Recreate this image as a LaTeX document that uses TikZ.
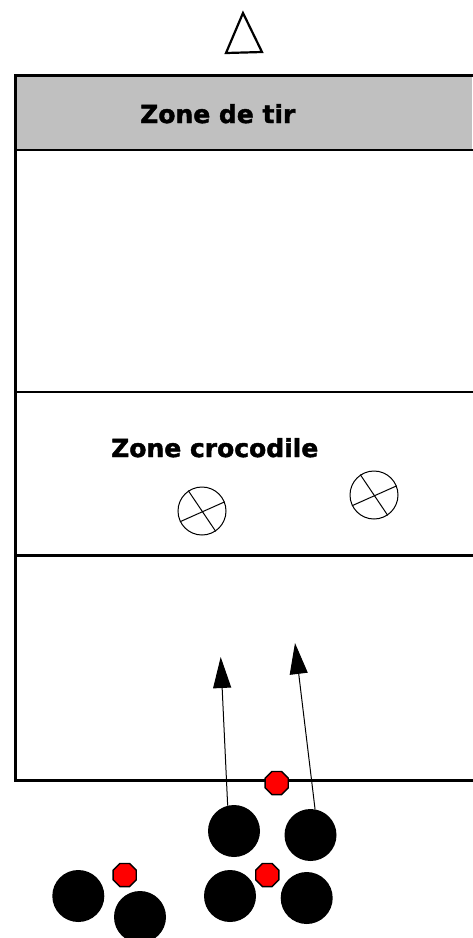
\documentclass[tikz,border=0pt]{standalone}
\usepackage{fontspec}
\usepackage{tikz}
\usetikzlibrary{arrows.meta,shapes.geometric}
\newfontfamily\zonefont{DejaVu Sans}[BoldFeatures={FakeBold=1.6}]
\definecolor{tirgrey}{RGB}{192,192,192}
\definecolor{ballred}{RGB}{255,0,0}
\tikzset{
  zoneline/.style={draw=black,line width=2.8pt},
  zonelabel/.style={anchor=base west,inner sep=0pt,
                    font=\zonefont\bfseries\fontsize{25}{30}\selectfont},
  croc/.style={circle,draw=black,line width=1pt,minimum size=48pt,inner sep=0pt},
  crocx/.style={draw=black,line width=1pt},
  player/.style={circle,fill=black,minimum size=52pt,inner sep=0pt},
  ball/.style={regular polygon,regular polygon sides=8,draw=black,line width=1.4pt,
               fill=ballred,minimum size=25pt,inner sep=0pt},
  run/.style={-{Triangle[length=31pt,width=18pt]},draw=black,line width=1pt},
}
\begin{document}
\begin{tikzpicture}[x=1pt,y=-1pt]
  \useasboundingbox (0,0) rectangle (472,938);
  % the target
  \draw[line width=2.2pt,line join=miter] (226,53) -- (243,13) -- (262,52) -- cycle;
  % the field, open on the right
  \fill[tirgrey] (15.5,75.5) rectangle (472,150);
  \draw[zoneline] (480,75.5) -| (15.5,780.5) -- (480,780.5);
  \draw[zoneline] (15.5,150) -- (480,150);
  \draw[zoneline] (15.5,392) -- (480,392);
  \draw[zoneline] (15.5,555.5) -- (480,555.5);
  \node[zonelabel] (tir) at (140,123) {Zone de tir};
  \node[zonelabel] (crocodile) at (111,457) {Zone crocodile};
  % the crocodiles
  \node[croc] (c1) at (202,511) {};
  \node[croc] (c2) at (374,495) {};
  \foreach \c in {c1,c2}{
    \draw[crocx] (\c.124) -- (\c.-56);
    \draw[crocx] (\c.206) -- (\c.22);}
  % the players and the balls
  \foreach \n/\x/\y in {1/234/831,2/310.5/835,3/230/896,4/306.7/898,
                        5/78.3/896,6/140/917}{
    \node[player] (p\n) at (\x,\y) {};}
  \node[ball] (b1) at (276.7,783) {};
  \node[ball] (b2) at (267.3,875) {};
  \node[ball] (b3) at (124.7,875) {};
  % the runs
  \coordinate (t1) at (220.7,657);
  \coordinate (t2) at (295,643);
  \draw[run] (p1.104) -- (t1);
  \draw[run] (p2.80) -- (t2);
\end{tikzpicture}
\end{document}
